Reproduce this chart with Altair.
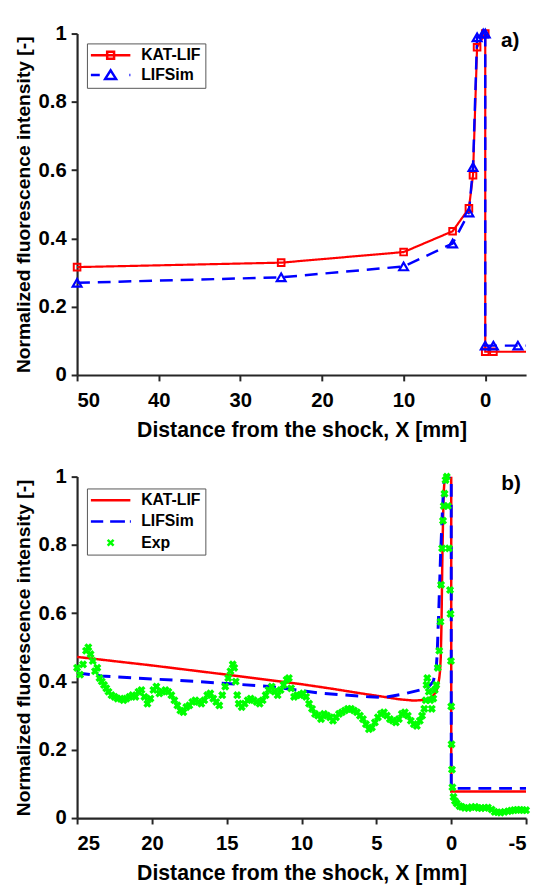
import altair as alt
import pandas as pd

RED = "#ff0000"
BLUE = "#0000ff"
GREEN = "#00ff00"
FONT = "Liberation Sans"

# ---------------- panel a) ----------------
a_kat_x = [50, 25, 10, 4, 2, 1.5, 1, 0, 0, -1, -5]
a_kat_y = [0.316, 0.329, 0.360, 0.421, 0.488, 0.585, 0.960, 1.0, 0.068, 0.068, 0.068]
a_kat_mark = [1, 1, 1, 1, 1, 1, 1, 1, 1, 1, 0]

a_lif_x = [50, 25, 10, 4, 2, 1.5, 1, 0.25, 0, 0, -1, -4, -5]
a_lif_y = [0.270, 0.286, 0.318, 0.385, 0.476, 0.609, 0.989, 1.0, 1.0, 0.086, 0.086, 0.086, 0.086]
a_lif_mark = [1, 1, 1, 1, 1, 1, 1, 1, 1, 1, 1, 1, 0]

a_ticks = [50, 40, 30, 20, 10, 0]
a_label = ["a)"]
a_label_x = [-3.05]
a_label_y = [0.977]

# ---------------- panel b) ----------------
b_kat_x = [25, 20, 15, 10, 8, 6, 4.5, 3.5, 2.5, 1.8, 1.3, 1.0, 0.9, 0.8, 0.75, 0.7,
           0.65, 0.6, 0.55, 0.5, 0.45, 0.4, 0.0, 0.0, -5]
b_kat_y = [0.472, 0.447, 0.420, 0.392, 0.379, 0.365, 0.355, 0.348, 0.344, 0.346, 0.354,
           0.370, 0.385, 0.410, 0.430, 0.470, 0.570, 0.740, 0.870, 0.955, 0.990, 1.0,
           1.0, 0.078, 0.078]

b_lif_x = [25, 23.4, 17, 12, 8.8, 5.5, 4.5, 3.2, 2.1, 1.6, 1.2, 1.0, 0.94, 0.83, 0.72,
           0.6, 0.5, 0.4, 0.0, 0.0, -5]
b_lif_y = [0.425, 0.416, 0.400, 0.385, 0.366, 0.355, 0.353, 0.363, 0.375, 0.380, 0.400,
           0.440, 0.480, 0.610, 0.760, 0.890, 0.980, 1.0, 1.0, 0.087, 0.087]

b_exp_x = [25.0, 24.8, 24.6, 24.4, 24.25, 24.1, 23.95, 23.8, 23.65, 23.5, 23.35, 23.2,
           23.05, 22.9, 22.7, 22.5, 22.3, 22.1, 21.9, 21.7, 21.5, 21.3, 21.1, 20.9,
           20.7, 20.5, 20.3, 20.1, 19.9, 19.7, 19.5, 19.3, 19.1, 18.9, 18.7, 18.5,
           18.3, 18.1, 17.9, 17.7, 17.5, 17.3, 17.1, 16.9, 16.7, 16.5, 16.3, 16.1,
           15.9, 15.7, 15.5, 15.3, 15.1, 14.9, 14.75, 14.6, 14.5, 14.4, 14.3, 14.2,
           14.0, 13.8, 13.6, 13.4, 13.2, 13.0, 12.8, 12.6, 12.4, 12.2, 12.0, 11.8,
           11.6, 11.4, 11.2, 11.0, 10.85, 10.7, 10.5, 10.3, 10.1, 9.9, 9.7, 9.5,
           9.3, 9.1, 8.9, 8.7, 8.5, 8.3, 8.1, 7.9, 7.7, 7.5, 7.3, 7.1, 6.9, 6.7,
           6.5, 6.3, 6.1, 5.9, 5.7, 5.5, 5.3, 5.1, 4.9, 4.7, 4.5, 4.3, 4.1, 3.9,
           3.7, 3.5, 3.3, 3.1, 2.9, 2.7, 2.5, 2.3, 2.1, 1.95, 1.8, 1.7, 1.65, 1.6,
           1.5, 1.4, 1.3, 1.2, 1.1, 1.0, 0.9, 0.8, 0.72, 0.68, 0.61, 0.55, 0.5,
           0.45, 0.38, 0.3, 0.22, 0.15, 0.08, 0.05, 0.02, 0.0, -0.02, -0.05, -0.08,
           -0.15, -0.25, -0.37, -0.55, -0.7, -0.9, -1.14, -1.35, -1.6, -1.8, -2.0,
           -2.25, -2.45, -2.7, -2.9, -3.1, -3.3, -3.55, -3.8, -4.0, -4.2, -4.4, -4.6,
           -4.8, -5.0]
b_exp_y = [0.44, 0.42, 0.45, 0.49, 0.50, 0.48, 0.46, 0.43, 0.44, 0.41, 0.40, 0.39,
           0.38, 0.37, 0.36, 0.355, 0.35, 0.35, 0.345, 0.35, 0.355, 0.36, 0.355, 0.37,
           0.375, 0.355, 0.335, 0.35, 0.375, 0.385, 0.365, 0.37, 0.375, 0.37, 0.36, 0.345,
           0.33, 0.315, 0.31, 0.325, 0.33, 0.34, 0.345, 0.34, 0.335, 0.345, 0.36, 0.365,
           0.35, 0.34, 0.33, 0.36, 0.385, 0.41, 0.43, 0.45, 0.44, 0.40, 0.36, 0.335,
           0.325, 0.335, 0.345, 0.35, 0.345, 0.34, 0.335, 0.345, 0.36, 0.375, 0.385, 0.37,
           0.36, 0.375, 0.39, 0.405, 0.41, 0.38, 0.355, 0.36, 0.36, 0.365, 0.355, 0.335,
           0.32, 0.305, 0.30, 0.29, 0.305, 0.30, 0.295, 0.285, 0.295, 0.305, 0.31, 0.315,
           0.32, 0.32, 0.315, 0.31, 0.30, 0.29, 0.275, 0.26, 0.265, 0.28, 0.295, 0.305,
           0.31, 0.30, 0.29, 0.285, 0.28, 0.29, 0.305, 0.31, 0.30, 0.285, 0.275, 0.27,
           0.285, 0.30, 0.32, 0.345, 0.39, 0.41, 0.37, 0.345, 0.32, 0.35, 0.375, 0.39,
           0.44, 0.49, 0.575, 0.683, 0.79, 0.871, 0.914, 0.95, 0.99, 1.0, 0.914, 0.79,
           0.668, 0.598, 0.46, 0.327, 0.216, 0.142, 0.09, 0.062, 0.05, 0.043, 0.035,
           0.033, 0.03, 0.029, 0.032, 0.033, 0.03, 0.029, 0.03, 0.031, 0.025, 0.018,
           0.017, 0.016, 0.018, 0.02, 0.022, 0.023, 0.024, 0.024, 0.023, 0.023]

b_ticks = [25, 20, 15, 10, 5, 0, -5]
b_label = ["b)"]
b_label_x = [-4.0]
b_label_y = [0.977]

y_ticks = [0, 0.2, 0.4, 0.6, 0.8, 1]

a_names = ["KAT-LIF", "LIFSim"]
b_names = ["KAT-LIF", "LIFSim", "Exp"]

# legend glyphs (custom symbol paths: line + marker)
a_paths = [
    "M-4,0H4M-0.7,-0.7H0.7V0.7H-0.7Z",
    "M-4,0H-2.2M-1.1,0.8L0,-0.95L1.1,0.8ZM3.8,0H4",
]
b_paths = [
    "M-4,0H4",
    "M-4,0H-1.5M-0.1,0H2.9M3.9,0H4.1",
    "M-0.6,-0.6L0.6,0.6M-0.6,0.6L0.6,-0.6",
]

W, H = 455, 346
TITLE_X = "Distance from the shock, X [mm]"
TITLE_Y = "Normalized fluorescence intensity [-]"


def xs(dom, ticks):
    return dict(
        scale=alt.Scale(domain=dom, reverse=True, nice=False, zero=False),
        axis=alt.Axis(values=ticks, title=TITLE_X, labelExpr="'' + datum.value"),
    )


def ys():
    return dict(
        scale=alt.Scale(domain=[0, 1], nice=False),
        axis=alt.Axis(values=y_ticks, title=TITLE_Y, format="~g"),
    )


def panel(lines, points, leg_names, leg_colors, leg_paths, lab, lab_x, lab_y,
          dom, ticks, field, leg_pad, leg_y):
    layers = []
    xkw = xs(dom, ticks)
    ykw = ys()
    for (lx, ly, col, dash, sw) in lines:
        df = pd.DataFrame({"x": lx, "y": ly, "i": list(range(len(lx)))})
        layers.append(
            alt.Chart(df).mark_line(color=col, strokeWidth=sw, strokeDash=dash, clip=True)
            .encode(x=alt.X("x:Q", **xkw), y=alt.Y("y:Q", **ykw), order="i:Q")
        )
    for (px, py, col, shape, size, filled, angle, sw) in points:
        df = pd.DataFrame({"x": px, "y": py})
        layers.append(
            alt.Chart(df).mark_point(color=col, shape=shape, size=size, filled=filled,
                                     angle=angle, strokeWidth=sw, opacity=1)
            .encode(x=alt.X("x:Q", **xkw), y=alt.Y("y:Q", **ykw))
        )
    leg = alt.Legend(title=None, orient="none", legendX=10, legendY=leg_y,
                     symbolSize=100, symbolStrokeWidth=2.5, symbolOffset=12,
                     labelOffset=23, rowPadding=leg_pad, padding=4,
                     strokeColor="#555555", fillColor="white",
                     labelFont=FONT, labelFontWeight="bold", labelFontSize=16,
                     labelColor="black")
    ldf = pd.DataFrame({field: leg_names, "x": [80] * len(leg_names),
                        "y": [0.5] * len(leg_names)})
    layers.append(
        alt.Chart(ldf).mark_point(filled=False, strokeWidth=2.5, opacity=1, clip=True)
        .encode(
            x=alt.X("x:Q", **xkw), y=alt.Y("y:Q", **ykw),
            color=alt.Color(f"{field}:N", scale=alt.Scale(domain=leg_names, range=leg_colors), legend=leg),
            shape=alt.Shape(f"{field}:N", scale=alt.Scale(domain=leg_names, range=leg_paths), legend=leg),
        )
    )
    tdf = pd.DataFrame({"x": lab_x, "y": lab_y, "t": lab})
    layers.append(
        alt.Chart(tdf).mark_text(font=FONT, fontWeight="bold", fontSize=21, color="black",
                                 align="center", baseline="middle")
        .encode(x=alt.X("x:Q", **xkw), y=alt.Y("y:Q", **ykw), text="t:N")
    )
    return alt.layer(*layers).properties(width=W, height=H)


top = panel(
    lines=[(a_kat_x, a_kat_y, RED, [1, 0], 2.2), (a_lif_x, a_lif_y, BLUE, [13, 8], 2.5)],
    points=[
        ([x for x, m in zip(a_kat_x, a_kat_mark) if m], [y for y, m in zip(a_kat_y, a_kat_mark) if m],
         RED, "square", 45, False, 0, 2),
        ([x for x, m in zip(a_lif_x, a_lif_mark) if m], [y for y, m in zip(a_lif_y, a_lif_mark) if m],
         BLUE, "triangle-up", 80, False, 0, 2.2),
    ],
    leg_names=a_names, leg_colors=[RED, BLUE], leg_paths=a_paths,
    lab=a_label, lab_x=a_label_x, lab_y=a_label_y,
    dom=[-5, 50], ticks=a_ticks, field="series_a", leg_pad=1, leg_y=10,
)

bottom = panel(
    lines=[(b_kat_x, b_kat_y, RED, [1, 0], 2.5), (b_lif_x, b_lif_y, BLUE, [13, 8], 3)],
    points=[(b_exp_x, b_exp_y, GREEN, "cross", 70, True, 45, 0)],
    leg_names=b_names, leg_colors=[RED, BLUE, GREEN], leg_paths=b_paths,
    lab=b_label, lab_x=b_label_x, lab_y=b_label_y,
    dom=[-5, 25], ticks=b_ticks, field="series_b", leg_pad=5.5, leg_y=12,
)

chart = (
    alt.vconcat(top, bottom, spacing=26)
    .resolve_scale(color="independent", shape="independent", x="independent")
    .resolve_legend(color="independent", shape="independent")
    .properties(padding={"left": 5, "top": 10, "right": 0, "bottom": 0})
    .configure_view(stroke=None)
    .configure_axis(
        grid=False, domainColor="#262626", domainWidth=2.2, tickColor="#262626",
        tickWidth=2, tickSize=6, labelFont=FONT, labelFontWeight="bold",
        labelFontSize=20.5, labelColor="black",
        titleFont=FONT, titleFontWeight="bold", titleColor="black",
    )
    .configure_axisX(titleFontSize=21.5, labelPadding=9.5, titlePadding=9.5)
    .configure_axisY(titleFontSize=19.5, labelPadding=5, titlePadding=5)
)

chart.save("out.html", embed_options={"renderer": "svg", "actions": False})
